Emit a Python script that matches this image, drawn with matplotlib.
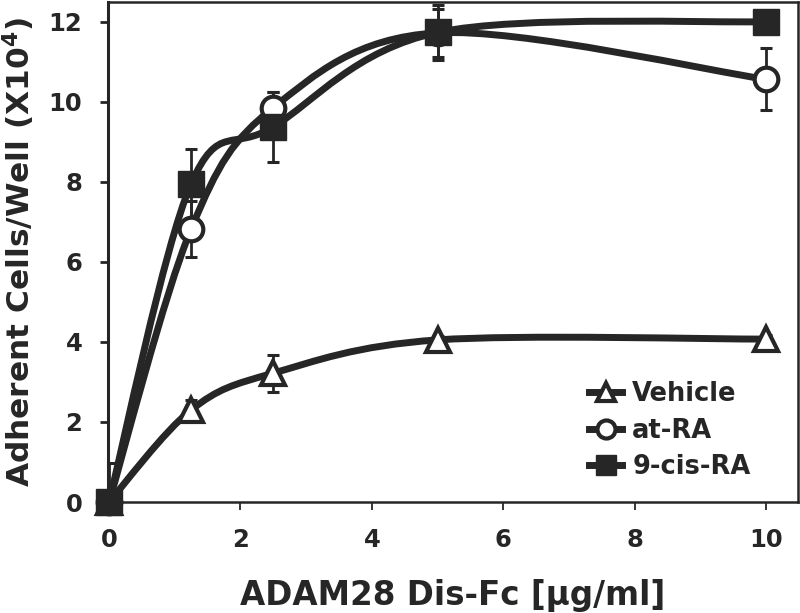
import numpy as np
import matplotlib
matplotlib.use("Agg")
import matplotlib.pyplot as plt
from matplotlib.path import Path
from matplotlib.patches import PathPatch
from matplotlib.lines import Line2D

# Data
dose = [0, 1.25, 2.5, 5, 10]

vehicle = [0, 2.3, 3.22, 4.05, 4.07]
vehicle_err = [0.97, 0.25, 0.46, 0.1, 0.1]

at_ra = [0, 6.82, 9.85, 11.72, 10.56]
at_ra_err = [0, 0.7, 0.4, 0.6, 0.77]

cis_ra = [0, 7.95, 9.37, 11.73, 12.0]
cis_ra_err = [0, 0.88, 0.87, 0.68, 0.1]

labels = ["Vehicle", "at-RA", "9-cis-RA"]

ink = "#262626"
plt.rcParams["font.family"] = "DejaVu Sans"
plt.rcParams["font.weight"] = "bold"


def smooth_path(x, y):
    # Excel-like smoothed line: bezier segments through the points
    pts = np.column_stack([x, y]).astype(float)
    verts = [pts[0]]
    codes = [Path.MOVETO]
    n = len(pts)
    for i in range(n - 1):
        p0 = pts[i - 1] if i > 0 else pts[i]
        p1 = pts[i]
        p2 = pts[i + 1]
        p3 = pts[i + 2] if i + 2 < n else pts[i + 1]
        c1 = p1 + (p2 - p0) / 6
        c2 = p2 - (p3 - p1) / 6
        verts += [c1, c2, p2]
        codes += [Path.CURVE4] * 3
    return Path(verts, codes)


fig = plt.figure(figsize=(8, 6.13), dpi=100)
ax = fig.add_axes([0.135, 0.181, 0.862, 0.8157])

# Curves
for ys in [vehicle, at_ra, cis_ra]:
    ax.add_patch(PathPatch(smooth_path(dose, ys), facecolor="none", edgecolor=ink,
                           lw=5, capstyle="round", joinstyle="round", zorder=2))

# Error bars
for ys, err in [(vehicle, vehicle_err), (at_ra, at_ra_err), (cis_ra, cis_ra_err)]:
    ax.errorbar(dose, ys, yerr=err, fmt="none", ecolor=ink, elinewidth=2,
                capsize=4.2, capthick=2.2, zorder=3)

# Markers
ax.plot(dose, vehicle, linestyle="none", marker="^", markersize=17, markerfacecolor="white",
        markeredgecolor=ink, markeredgewidth=3, zorder=4, clip_on=False)
ax.plot(dose, at_ra, linestyle="none", marker="o", markersize=17, markerfacecolor="white",
        markeredgecolor=ink, markeredgewidth=3, zorder=5, clip_on=False)
ax.plot(dose, cis_ra, linestyle="none", marker="s", markersize=18.5, markerfacecolor=ink,
        markeredgecolor=ink, markeredgewidth=1, zorder=6, clip_on=False)

ax.set_xlim(-0.015, 10.48)
ax.set_ylim(0, 12.49)
ax.set_xticks([0, 2, 4, 6, 8, 10])
ax.set_yticks([0, 2, 4, 6, 8, 10, 12])

for s in ax.spines.values():
    s.set_linewidth(1.8)
    s.set_color(ink)
ax.spines["left"].set_linewidth(2.2)

ax.tick_params(axis="y", direction="out", length=5.5, width=2, color=ink,
               labelsize=17.5, pad=13, labelcolor=ink)
ax.tick_params(axis="x", direction="out", length=6, width=1.3, color=ink,
               labelsize=17.5, pad=13, labelcolor=ink)

ax.set_xlabel("ADAM28 Dis-Fc [\u03bcg/ml]", fontsize=23.5, fontweight="bold", color=ink, labelpad=19)
ax.set_ylabel("Adherent Cells/Well (X10$^{\\mathbf{4}}$)", fontsize=22.5, fontweight="bold",
              color=ink, labelpad=8)

# Legend
handles = [
    Line2D([], [], color=ink, lw=5, marker="^", markersize=13, markerfacecolor="white",
           markeredgecolor=ink, markeredgewidth=3),
    Line2D([], [], color=ink, lw=5, marker="o", markersize=13, markerfacecolor="white",
           markeredgecolor=ink, markeredgewidth=3),
    Line2D([], [], color=ink, lw=5, marker="s", markersize=14, markerfacecolor=ink,
           markeredgecolor=ink),
]
leg = ax.legend(handles, labels, loc="center", bbox_to_anchor=(0.815, 0.143),
                frameon=False, fontsize=18.5, handlelength=1.28, handletextpad=0.39,
                labelspacing=0.4, borderpad=0)
for t in leg.get_texts():
    t.set_color(ink)
    t.set_fontweight("bold")

fig.savefig("out.png", dpi=100)
